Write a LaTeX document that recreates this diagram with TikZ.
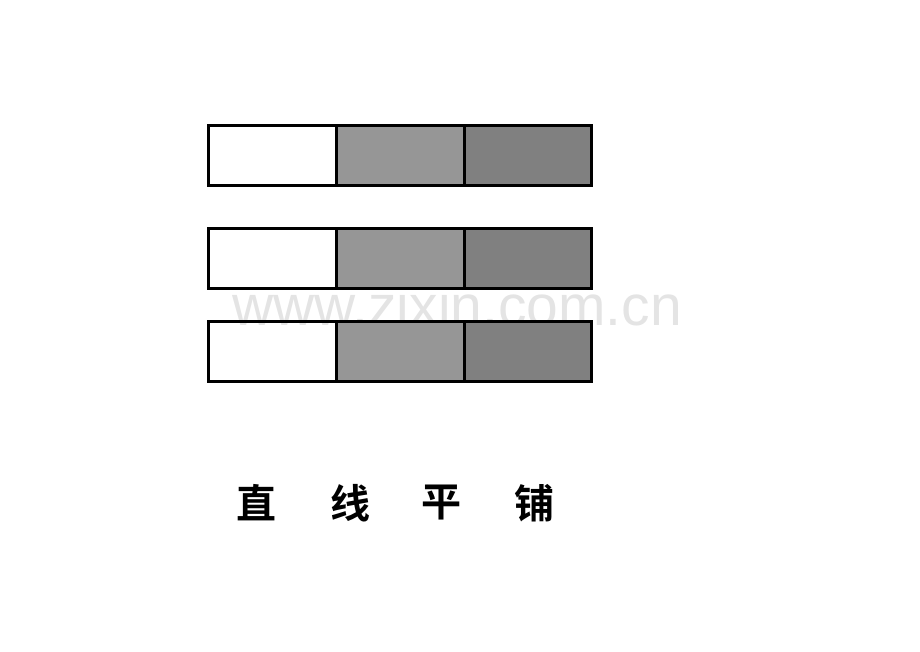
\documentclass[tikz,border=0pt]{standalone}
\usepackage{fontspec}
\newfontfamily\cjk{Noto Sans CJK SC}[BoldFont={Noto Sans CJK SC Bold}]
\newfontfamily\wm{Liberation Sans}
\definecolor{gA}{HTML}{969696}
\definecolor{gB}{HTML}{808080}
\definecolor{wmc}{HTML}{E4E4E4}
\begin{document}
\begin{tikzpicture}[x=1pt,y=-1pt,
  cell/.style={draw=black,line width=3pt,minimum width=128pt,minimum height=60pt,inner sep=0pt,outer sep=0pt},
  zi/.style={font=\cjk\bfseries\fontsize{40pt}{40pt}\selectfont,inner sep=0pt,anchor=center}]
\useasboundingbox (0,0) rectangle (920,651);
\node[font=\wm\fontsize{57pt}{57pt}\selectfont,text=wmc,anchor=base west,inner sep=0pt] (wm) at (232,325) {www.zixin.com.cn};
\foreach \r/\y in {1/155,2/258,3/351}{
  \node[cell] (w\r) at (272,\y) {};
  \node[cell,fill=gA] (a\r) at (400,\y) {};
  \node[cell,fill=gB,minimum width=127pt] (b\r) at (527.5,\y) {};
}
\node[zi] (z1) at (256,503) {直};
\node[zi] (z2) at (350,503) {线};
\node[zi] (z3) at (441,503) {平};
\node[zi] (z4) at (534,503) {铺};
\end{tikzpicture}
\end{document}
